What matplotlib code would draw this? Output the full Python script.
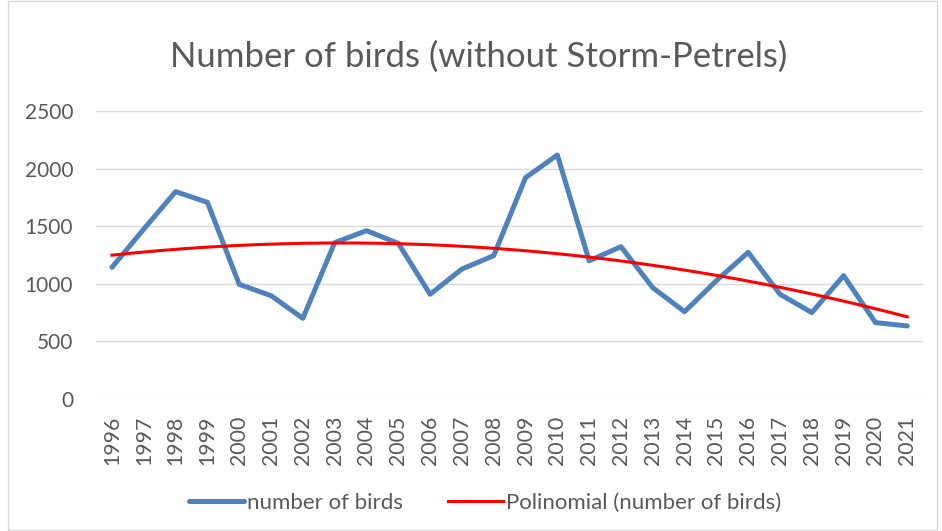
import numpy as np
from matplotlib import pyplot as plt
from matplotlib.patches import Rectangle

years = [str(y) for y in range(1996, 2022)]
birds = [1143, 1475, 1800, 1707, 995, 897, 700, 1357, 1461, 1351,
         909, 1128, 1244, 1921, 2118, 1200, 1322, 966, 758, 1027,
         1273, 909, 750, 1071, 663, 634]
yticks = [0, 500, 1000, 1500, 2000, 2500]

GRAY = '#595959'
plt.rcParams['font.family'] = ['Lato', 'DejaVu Sans']


def main():
    fig = plt.figure(figsize=(9.42, 5.31), dpi=100)
    ax = fig.add_axes([0.102, 0.2486, 0.878, 0.5424])

    x = np.arange(len(years))
    ax.plot(x, birds, color='#4F81BD', lw=3.6, solid_joinstyle='round',
            solid_capstyle='round', label='number of birds', zorder=3)

    # second order polynomial trend line, like the Excel one
    coef = np.polyfit(x, birds, 2)
    xs = np.linspace(x[0], x[-1], 200)
    ax.plot(xs, np.polyval(coef, xs), color='#FF0000', lw=2.2,
            label='Polinomial (number of birds)', zorder=4)

    ax.set_xlim(-0.5, len(years) - 0.5)
    ax.set_ylim(0, 2500)
    ax.set_yticks(yticks)
    ax.set_xticks(x)
    ax.set_xticklabels(years, rotation=90)
    ax.tick_params(axis='y', length=0, pad=16.5, labelsize=15, labelcolor=GRAY)
    ax.tick_params(axis='x', length=0, pad=12, labelsize=15.3, labelcolor=GRAY)
    ax.grid(axis='y', color='#D9D9D9', lw=1)
    ax.set_axisbelow(True)
    for s in ax.spines.values():
        s.set_visible(False)

    fig.text(0.508, 0.893, 'Number of birds (without Storm-Petrels)',
             ha='center', va='center', fontsize=25, color=GRAY)

    ax.legend(loc='center', bbox_to_anchor=(0.515, 0.053),
              bbox_transform=fig.transFigure, ncol=2, frameon=False,
              fontsize=16, labelcolor=GRAY, handlelength=2.5,
              handletextpad=0.13, columnspacing=2.0)

    fig.patches.append(Rectangle((8 / 942, 0.002), 929 / 942, 0.996,
                                 transform=fig.transFigure, fill=False,
                                 edgecolor='#D9D9D9', lw=1))

    fig.savefig('out.png', dpi=100)


if __name__ == '__main__':
    main()
